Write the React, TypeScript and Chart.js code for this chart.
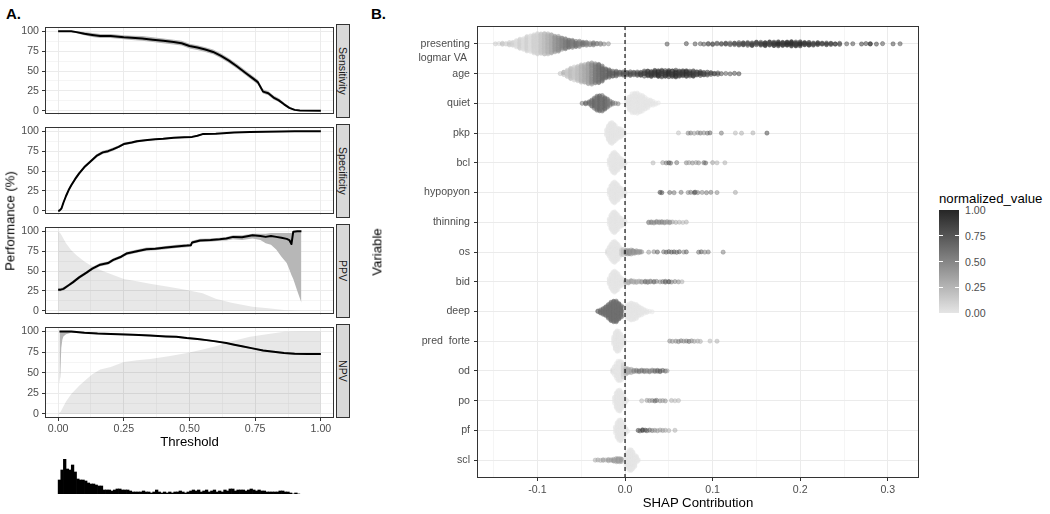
import React, { useEffect, useRef } from 'react';
import { Chart, registerables } from 'chart.js';
Chart.register(...registerables);

const FONT = "'Liberation Sans', Arial, Helvetica, sans-serif";
Chart.defaults.font.family = FONT;
const GRID = '#ebebeb';
const AXIS_TEXT = '#4d4d4d';
const BORDER = '#333333';

// ---------------- Panel A data ----------------
const facetNames = ['Sensitivity', 'Specificity', 'PPV', 'NPV'];
const thrMajor = [0, 0.25, 0.5, 0.75, 1];
const thrMinor = [0.125, 0.375, 0.625, 0.875];
const thrTickLabels = ['0.00', '0.25', '0.50', '0.75', '1.00'];
const perfMajor = [0, 25, 50, 75, 100];
const perfMinor = [12.5, 37.5, 62.5, 87.5];
const perfTickLabels = ['0', '25', '50', '75', '100'];

const sensX = [0, 0.05, 0.07, 0.1, 0.13, 0.16, 0.2, 0.25, 0.28, 0.32, 0.36, 0.4, 0.44, 0.47, 0.5, 0.53, 0.56, 0.59, 0.62, 0.65, 0.68, 0.7, 0.72, 0.74, 0.76, 0.77, 0.78, 0.8, 0.82, 0.84, 0.86, 0.88, 0.9, 0.92, 1.0];
const sensY = [100, 100, 99, 97, 95.5, 94, 94, 92.5, 92, 91, 89.5, 88, 86.5, 85, 81.5, 79.5, 77, 74, 69, 63, 56, 51, 46, 41, 36, 30, 24, 22, 16.5, 13, 8, 3.5, 1, 0.3, 0];
const sensLo = [99, 99, 97.5, 95, 93, 91.5, 91.5, 90, 89, 88, 86.5, 85, 83.5, 82, 78.5, 76.5, 74, 71, 66, 60, 53, 48, 43, 38, 33, 27, 21.5, 19.5, 14, 11, 6.5, 2.5, 0.3, 0, 0];
const sensHi = [100, 100, 100, 99, 98, 96.5, 96.5, 95, 94.5, 94, 92.5, 91, 89.5, 88, 84.5, 82.5, 80, 77, 72, 66, 59, 54, 49, 44, 39, 33, 27, 24.5, 19, 15.5, 10, 5, 2, 0.8, 0.3];

const specX = [0, 0.005, 0.013, 0.02, 0.03, 0.04, 0.05, 0.065, 0.08, 0.1, 0.12, 0.146, 0.17, 0.19, 0.21, 0.23, 0.25, 0.28, 0.3, 0.34, 0.37, 0.4, 0.44, 0.48, 0.51, 0.53, 0.55, 0.6, 0.67, 0.73, 0.79, 0.85, 0.9, 1.0];
const specY = [0, 0, 3, 10, 18.5, 26, 32, 40, 47, 55, 61, 69, 73.5, 75, 77.5, 80.5, 84, 86, 87.5, 89, 90, 90.5, 92, 92.5, 93, 94.5, 96.5, 97, 98.4, 99, 99.6, 99.8, 100, 100];
const specLo = [0, 0, 1.5, 8, 16.5, 24, 30, 38, 45, 53, 59, 67, 71.5, 73, 75.5, 79, 82.5, 84.5, 86, 88, 89, 89.5, 91, 91.5, 92, 93.5, 95.5, 96.3, 97.9, 98.6, 99.3, 99.6, 99.8, 99.9];
const specHi = [0.5, 1, 4.5, 12, 20.5, 28, 34, 42, 49, 57, 63, 71, 75.5, 77, 79.5, 82, 85.5, 87.5, 89, 90, 91, 91.5, 93, 93.5, 94, 95.5, 97.5, 97.7, 98.9, 99.4, 99.8, 100, 100, 100];

const ppvX = [0, 0.01, 0.02, 0.04, 0.057, 0.08, 0.108, 0.13, 0.16, 0.19, 0.21, 0.24, 0.26, 0.3, 0.336, 0.37, 0.41, 0.45, 0.49, 0.505, 0.51, 0.54, 0.58, 0.615, 0.64, 0.666, 0.7, 0.74, 0.77, 0.79, 0.81, 0.83, 0.85, 0.87, 0.88, 0.888, 0.895, 0.91, 0.926];
const ppvY = [26.5, 26.5, 27.5, 32, 36, 42, 48, 53, 58, 60, 64, 68, 72, 75, 77.5, 78, 79.5, 81, 82, 82.5, 86, 88.5, 89, 90, 91, 93, 92.5, 95, 94, 93, 94, 93, 92, 90.5, 89, 84, 99.6, 100, 100];
const ppvLo = [24.5, 24.5, 25.5, 30, 34, 40, 46, 51, 56, 58, 62, 66, 70, 73, 75.5, 76, 77.5, 79, 80, 80.5, 84, 86.5, 87, 88, 88.5, 90, 89, 91, 89, 85, 83, 77, 68, 60, 52, 45, 40, 25, 10];
const ppvHi = [28.5, 28.5, 29.5, 34, 38, 44, 50, 55, 60, 62, 66, 70, 74, 77, 79.5, 80, 81.5, 83, 84, 84.5, 88, 90.5, 91, 92, 93, 95, 95, 97, 97, 97, 98, 98, 98, 98, 98, 98, 100, 100, 100];
const ppvAreaX = [0, 0.01, 0.03, 0.05, 0.07, 0.1, 0.12, 0.15, 0.17, 0.21, 0.25, 0.3, 0.35, 0.42, 0.49, 0.55, 0.6, 0.66, 0.74, 0.8, 0.86, 0.9, 0.93];
const ppvAreaY = [100, 97, 85, 76, 70, 62, 58, 53, 50, 45, 40, 37, 34, 30, 26, 22, 15, 10, 5, 3, 1, 0.3, 0];

const npvX = [0.005, 0.008, 0.012, 0.016, 0.02, 0.03, 0.05, 0.1, 0.15, 0.2, 0.285, 0.35, 0.41, 0.45, 0.49, 0.53, 0.565, 0.6, 0.64, 0.67, 0.7, 0.74, 0.78, 0.82, 0.86, 0.9, 0.95, 1.0];
const npvY = [100, 100, 100, 100, 100, 100, 100, 98.5, 97.5, 97, 96, 95, 94, 93.5, 92, 91, 89.5, 88, 86, 84, 82, 79.5, 77, 75.5, 74, 73, 72.8, 72.8];
const npvLo = [36, 45, 80, 90, 94, 96.5, 98.5, 97.5, 96.5, 96, 95, 94, 93, 92.5, 91, 90, 88.5, 87, 85, 83, 81, 78.5, 75.8, 74.3, 72.8, 71.8, 71.6, 71.6];
const npvHi = [100, 100, 100, 100, 100, 100, 100, 99.5, 98.5, 98, 97, 96, 95, 94.5, 93, 92, 90.5, 89, 87, 85, 83, 80.5, 78.2, 76.7, 75.2, 74.2, 74, 74];
const npvAreaX = [0, 0.01, 0.03, 0.05, 0.08, 0.1, 0.13, 0.16, 0.2, 0.25, 0.3, 0.35, 0.42, 0.49, 0.55, 0.6, 0.66, 0.73, 0.8, 0.86, 0.93, 1.0];
const npvAreaY = [0, 3, 15, 24, 34, 40, 48, 54, 57, 63, 65, 66.5, 70, 74, 78, 82, 88, 93.7, 97, 99.6, 100, 100];

// histogram of predicted probabilities (bin width 0.01, starting at 0)
const histStart = 0;
const histBinWidth = 0.01;
const histCounts = [14, 24, 35, 25, 24, 29, 22, 15, 14, 14, 13, 11, 10, 10, 9, 8, 8, 4, 4, 4, 3, 4, 5, 5, 4, 4, 4, 3, 2, 2, 2, 2, 3, 2, 2, 1, 2, 4, 2, 1, 2, 1, 2, 1, 2, 2, 3, 2, 1, 2, 3, 4, 3, 4, 2, 3, 4, 2, 3, 4, 2, 3, 2, 4, 3, 5, 5, 3, 4, 4, 4, 3, 4, 5, 4, 3, 4, 3, 3, 2, 2, 2, 2, 2, 3, 3, 2, 2, 1, 0, 1, 0];

// ---------------- Panel B data ----------------
type Tup = [number, number, number]; // [SHAP value, normalized value, number of observations]
const variableNames = ['presenting logmar VA', 'age', 'quiet', 'pkp', 'bcl', 'hypopyon', 'thinning', 'os', 'bid', 'deep', 'pred  forte', 'od', 'po', 'pf', 'scl'];
const shapMajor = [-0.1, 0, 0.1, 0.2, 0.3];
const shapMinor = [-0.15, -0.05, 0.05, 0.15, 0.25];
const shapTickLabels = ['-0.1', '0.0', '0.1', '0.2', '0.3'];
const legendTicks = [1, 0.75, 0.5, 0.25, 0];
const legendTickLabels = ['1.00', '0.75', '0.50', '0.25', '0.00'];

const presentingVals: Tup[] = [
  [-0.148, 0.15, 1], [-0.144, 0.1, 1], [-0.14, 0.2, 2], [-0.136, 0.1, 2], [-0.132, 0.15, 3], [-0.128, 0.1, 5], [-0.124, 0.05, 8], [-0.12, 0.1, 11], [-0.116, 0.05, 14], [-0.112, 0.1, 17], [-0.108, 0.05, 20], [-0.104, 0.1, 22], [-0.1, 0.1, 24], [-0.096, 0.15, 25], [-0.092, 0.2, 25], [-0.088, 0.25, 24], [-0.084, 0.3, 22], [-0.08, 0.4, 20], [-0.076, 0.45, 17], [-0.072, 0.5, 14], [-0.068, 0.55, 12], [-0.064, 0.6, 10], [-0.06, 0.55, 9], [-0.056, 0.6, 7], [-0.052, 0.55, 6], [-0.048, 0.6, 5], [-0.044, 0.55, 4], [-0.04, 0.5, 3], [-0.036, 0.6, 3], [-0.032, 0.55, 2], [-0.028, 0.5, 2], [-0.024, 0.55, 1], [-0.019, 0.45, 1],
  [0.048, 0.8, 1], [0.07, 0.85, 1], [0.08, 0.8, 1], [0.086, 0.75, 1], [0.09, 0.8, 1], [0.095, 0.75, 2], [0.1, 0.8, 2], [0.105, 0.7, 2], [0.11, 0.8, 2], [0.115, 0.75, 3], [0.12, 0.7, 3], [0.125, 0.8, 3], [0.13, 0.75, 4], [0.135, 0.8, 5], [0.14, 0.75, 5], [0.145, 0.85, 5], [0.15, 0.8, 5], [0.155, 0.85, 5], [0.16, 0.9, 6], [0.165, 0.85, 6], [0.17, 0.9, 6], [0.175, 0.95, 6], [0.18, 0.9, 6], [0.185, 0.95, 6], [0.19, 0.95, 7], [0.195, 0.9, 7], [0.2, 0.95, 6], [0.205, 0.9, 5], [0.21, 0.9, 5], [0.215, 0.85, 4], [0.22, 0.9, 4], [0.225, 0.85, 3], [0.23, 0.9, 3], [0.235, 0.85, 3], [0.24, 0.9, 2], [0.245, 0.85, 2], [0.253, 0.8, 1], [0.26, 0.85, 1], [0.27, 0.95, 1], [0.275, 0.9, 1], [0.28, 0.95, 2], [0.287, 0.9, 1], [0.294, 0.8, 1], [0.306, 0.85, 1], [0.314, 0.8, 1],
];
const ageVals: Tup[] = [
  [-0.074, 0.2, 1], [-0.07, 0.25, 3], [-0.066, 0.15, 8], [-0.062, 0.2, 12], [-0.058, 0.15, 14], [-0.054, 0.2, 16], [-0.05, 0.25, 18], [-0.046, 0.3, 20], [-0.042, 0.35, 22], [-0.038, 0.45, 22], [-0.034, 0.55, 22], [-0.03, 0.6, 20], [-0.026, 0.65, 16], [-0.022, 0.65, 11], [-0.018, 0.7, 8], [-0.014, 0.7, 6], [-0.01, 0.75, 5], [-0.006, 0.7, 4], [-0.002, 0.75, 4], [0.002, 0.75, 4], [0.006, 0.8, 4], [0.01, 0.75, 4], [0.014, 0.8, 4], [0.018, 0.85, 5], [0.022, 0.85, 5], [0.026, 0.9, 6], [0.03, 0.9, 7], [0.034, 0.9, 7], [0.038, 0.95, 7], [0.042, 0.9, 7], [0.046, 0.9, 7], [0.05, 0.95, 7], [0.054, 0.9, 7], [0.058, 0.95, 7], [0.062, 0.9, 7], [0.066, 0.9, 7], [0.07, 0.95, 6], [0.074, 0.9, 6], [0.078, 0.9, 6], [0.082, 0.85, 5], [0.086, 0.9, 5], [0.09, 0.85, 4], [0.094, 0.85, 3], [0.098, 0.8, 3], [0.102, 0.85, 2], [0.106, 0.8, 2], [0.11, 0.85, 1], [0.115, 0.75, 1], [0.12, 0.8, 1], [0.125, 0.85, 1], [0.13, 0.9, 1],
];
const quietVals: Tup[] = [
  [-0.049, 0.6, 1], [-0.045, 0.7, 2], [-0.041, 0.65, 3], [-0.038, 0.6, 6], [-0.035, 0.65, 10], [-0.032, 0.6, 14], [-0.029, 0.65, 16], [-0.026, 0.6, 15], [-0.023, 0.65, 12], [-0.02, 0.6, 8], [-0.017, 0.55, 4], [-0.014, 0.6, 2], [-0.011, 0.5, 1], [-0.008, 0.55, 1],
  [0.002, 0, 6], [0.005, 0, 14], [0.008, 0, 18], [0.011, 0, 20], [0.014, 0, 20], [0.017, 0, 17], [0.02, 0, 14], [0.023, 0, 11], [0.026, 0, 8], [0.029, 0, 6], [0.032, 0, 4], [0.035, 0, 2], [0.038, 0, 1],
];
const pkpVals: Tup[] = [
  [-0.021, 0, 5], [-0.019, 0, 16], [-0.017, 0, 24], [-0.015, 0, 26], [-0.013, 0, 20], [-0.011, 0, 12], [-0.009, 0, 8], [-0.007, 0, 9], [-0.005, 0, 10], [-0.003, 0, 7], [-0.001, 0, 2],
  [0.061, 0.2, 1], [0.072, 0.5, 1], [0.075, 0.6, 1], [0.079, 0.4, 1], [0.083, 0.5, 1], [0.086, 0.6, 1], [0.09, 0.5, 1], [0.094, 0.6, 1], [0.097, 0.7, 1], [0.11, 0.6, 1], [0.126, 0.25, 1], [0.133, 0.3, 1], [0.146, 0.3, 1], [0.162, 0.85, 1],
];
const bclVals: Tup[] = [
  [-0.018, 0, 4], [-0.016, 0, 14], [-0.014, 0, 24], [-0.012, 0, 26], [-0.01, 0, 18], [-0.008, 0, 10], [-0.006, 0, 8], [-0.004, 0, 9], [-0.002, 0, 7], [0, 0, 2],
  [0.032, 0.25, 1], [0.043, 0.4, 1], [0.047, 0.6, 1], [0.05, 0.8, 1], [0.052, 0.7, 1], [0.059, 0.6, 1], [0.07, 0.5, 1], [0.073, 0.4, 1], [0.077, 0.5, 1], [0.081, 0.4, 1], [0.084, 0.5, 1], [0.09, 0.6, 1], [0.092, 0.7, 1], [0.1, 0.4, 1], [0.105, 0.3, 1], [0.114, 0.3, 1],
];
const hypopyonVals: Tup[] = [
  [-0.018, 0, 4], [-0.016, 0, 14], [-0.014, 0, 22], [-0.012, 0, 26], [-0.01, 0, 20], [-0.008, 0, 11], [-0.006, 0, 8], [-0.004, 0, 9], [-0.002, 0, 7], [0, 0, 2],
  [0.04, 0.85, 1], [0.042, 0.8, 1], [0.051, 0.7, 1], [0.056, 0.6, 1], [0.064, 0.6, 1], [0.072, 0.5, 1], [0.075, 0.6, 1], [0.079, 0.7, 1], [0.08, 0.85, 1], [0.083, 0.6, 1], [0.088, 0.5, 1], [0.093, 0.6, 1], [0.098, 0.6, 1], [0.105, 0.5, 1], [0.126, 0.35, 1],
];
const thinningVals: Tup[] = [
  [-0.018, 0, 4], [-0.016, 0, 15], [-0.014, 0, 24], [-0.012, 0, 26], [-0.01, 0, 18], [-0.008, 0, 10], [-0.006, 0, 8], [-0.004, 0, 8], [-0.002, 0, 6], [0, 0, 2],
  [0.027, 0.45, 2], [0.03, 0.5, 2], [0.033, 0.45, 2], [0.036, 0.5, 2], [0.039, 0.45, 2], [0.042, 0.5, 2], [0.045, 0.45, 2], [0.048, 0.4, 2], [0.051, 0.45, 2], [0.054, 0.4, 1], [0.058, 0.35, 1], [0.062, 0.3, 1], [0.066, 0.25, 1], [0.07, 0.3, 1],
];
const osVals: Tup[] = [
  [-0.02, 0.05, 3], [-0.018, 0, 8], [-0.016, 0, 14], [-0.014, 0, 20], [-0.012, 0, 22], [-0.01, 0, 18], [-0.008, 0, 12], [-0.006, 0, 8], [-0.004, 0.1, 5], [-0.002, 0.2, 4],
  [0.001, 0.45, 4], [0.003, 0.4, 4], [0.005, 0.45, 4], [0.007, 0.4, 3], [0.009, 0.45, 3], [0.011, 0.4, 3], [0.013, 0.45, 2], [0.015, 0.4, 2], [0.017, 0.4, 2], [0.019, 0.45, 1],
  [0.027, 0.4, 1], [0.033, 0.5, 1], [0.037, 0.75, 1], [0.044, 0.6, 1], [0.047, 0.7, 1], [0.05, 0.75, 1], [0.053, 0.7, 1], [0.056, 0.8, 1], [0.059, 0.65, 1], [0.062, 0.75, 1], [0.067, 0.5, 1], [0.07, 0.7, 1], [0.084, 0.6, 1], [0.087, 0.75, 1], [0.091, 0.5, 1], [0.095, 0.6, 1], [0.112, 0.55, 1],
];
const bidVals: Tup[] = [
  [-0.018, 0, 5], [-0.016, 0, 14], [-0.014, 0, 22], [-0.012, 0, 24], [-0.01, 0, 22], [-0.008, 0, 14], [-0.006, 0, 9], [-0.004, 0, 7], [-0.002, 0, 4],
  [0.001, 0.3, 3], [0.004, 0.3, 3], [0.007, 0.35, 3], [0.01, 0.3, 3], [0.013, 0.35, 2], [0.016, 0.3, 2], [0.019, 0.4, 2], [0.023, 0.6, 2], [0.026, 0.55, 2], [0.029, 0.5, 2], [0.033, 0.6, 2], [0.036, 0.55, 1], [0.04, 0.5, 1], [0.043, 0.6, 1], [0.046, 0.65, 2], [0.05, 0.7, 2], [0.053, 0.6, 1], [0.057, 0.55, 1], [0.061, 0.5, 1], [0.065, 0.3, 1],
];
const deepVals: Tup[] = [
  [-0.031, 0.62, 2], [-0.028, 0.62, 5], [-0.025, 0.62, 8], [-0.022, 0.62, 12], [-0.019, 0.62, 18], [-0.016, 0.62, 26], [-0.013, 0.62, 30], [-0.01, 0.62, 30], [-0.007, 0.62, 24], [-0.004, 0.62, 12], [-0.002, 0.62, 4],
  [0.001, 0, 10], [0.004, 0, 22], [0.007, 0, 26], [0.01, 0, 24], [0.013, 0, 18], [0.016, 0, 13], [0.019, 0, 9], [0.022, 0, 5], [0.025, 0, 3], [0.028, 0, 1], [0.031, 0, 1],
];
const predForteVals: Tup[] = [
  [-0.013, 0, 6], [-0.011, 0, 20], [-0.009, 0, 26], [-0.007, 0, 18], [-0.005, 0, 10], [-0.003, 0, 8], [-0.001, 0, 3],
  [0.051, 0.5, 1], [0.054, 0.45, 1], [0.058, 0.5, 1], [0.061, 0.55, 1], [0.064, 0.6, 1], [0.067, 0.5, 1], [0.07, 0.55, 1], [0.073, 0.7, 1], [0.076, 0.5, 1], [0.079, 0.4, 1], [0.083, 0.35, 1], [0.086, 0.3, 1], [0.097, 0.25, 1], [0.105, 0.3, 1],
];
const odVals: Tup[] = [
  [-0.014, 0.05, 3], [-0.012, 0, 6], [-0.01, 0, 10], [-0.008, 0, 18], [-0.006, 0, 22], [-0.004, 0, 16], [-0.002, 0.1, 8],
  [0.001, 0.3, 4], [0.003, 0.35, 4], [0.005, 0.3, 3], [0.007, 0.35, 3], [0.01, 0.5, 2], [0.013, 0.55, 2], [0.016, 0.6, 2], [0.019, 0.55, 2], [0.022, 0.6, 2], [0.025, 0.5, 2], [0.028, 0.55, 2], [0.031, 0.5, 2], [0.034, 0.6, 2], [0.037, 0.65, 2], [0.04, 0.7, 2], [0.043, 0.7, 1], [0.046, 0.75, 1], [0.048, 0.4, 1],
];
const poVals: Tup[] = [
  [-0.012, 0, 4], [-0.01, 0, 14], [-0.008, 0, 24], [-0.006, 0, 24], [-0.004, 0, 14], [-0.002, 0, 8], [0, 0, 5], [0.002, 0, 1],
  [0.019, 0.25, 1], [0.025, 0.4, 1], [0.028, 0.45, 1], [0.031, 0.5, 1], [0.034, 0.7, 1], [0.036, 0.65, 1], [0.04, 0.5, 1], [0.043, 0.4, 1], [0.046, 0.45, 1], [0.053, 0.3, 1], [0.057, 0.25, 1], [0.061, 0.25, 1],
];
const pfVals: Tup[] = [
  [-0.011, 0, 4], [-0.009, 0, 14], [-0.007, 0, 24], [-0.005, 0, 24], [-0.003, 0, 14], [-0.001, 0, 8], [0.001, 0, 4], [0.003, 0, 1],
  [0.015, 0.8, 1], [0.017, 0.75, 1], [0.02, 0.85, 2], [0.023, 0.8, 1], [0.025, 0.75, 1], [0.028, 0.7, 1], [0.031, 0.6, 1], [0.034, 0.5, 1], [0.037, 0.45, 1], [0.04, 0.4, 1], [0.043, 0.45, 1], [0.046, 0.35, 1], [0.05, 0.3, 1], [0.057, 0.3, 1],
];
const sclVals: Tup[] = [
  [-0.034, 0.3, 1], [-0.031, 0.35, 1], [-0.028, 0.3, 1], [-0.025, 0.35, 2], [-0.022, 0.3, 1], [-0.019, 0.4, 2], [-0.016, 0.35, 2], [-0.013, 0.4, 3], [-0.01, 0.35, 4], [-0.008, 0.4, 4], [-0.006, 0.35, 4], [-0.004, 0.4, 3],
  [0.001, 0, 8], [0.003, 0, 16], [0.005, 0, 24], [0.007, 0, 24], [0.009, 0, 17], [0.011, 0, 10], [0.013, 0, 5], [0.015, 0, 2],
];
const shapRows: Tup[][] = [presentingVals, ageVals, quietVals, pkpVals, bclVals, hypopyonVals, thinningVals, osVals, bidVals, deepVals, predForteVals, odVals, poVals, pfVals, sclVals];

// ---------------- helpers ----------------
const LOW = [229, 229, 229];
const HIGH = [38, 38, 38];
function shade(v: number, a: number) {
  const c = LOW.map((l, i) => Math.round(l + (HIGH[i] - l) * v));
  return `rgba(${c[0]},${c[1]},${c[2]},${a})`;
}
const isIn = (v: number, arr: number[]) => v !== undefined && arr.some((a) => Math.abs(a - v) < 1e-9);
const toPts = (xs: number[], ys: number[]) => xs.map((x, i) => ({ x, y: ys[i] }));

function vdc(n: number) {
  let v = 0, d = 1;
  while (n > 0) { d *= 2; v += (n % 2) / d; n = Math.floor(n / 2); }
  return v;
}

// quasirandom (violin-like) vertical layout of points within each row
function swarmLayout(rows: Tup[][]) {
  const W = 0.36, bw = 0.003;
  const out: { x: number; y: number; c: string }[] = [];
  rows.forEach((tuples, r) => {
    const flat: { s: number; v: number }[] = [];
    tuples.forEach(([s, v, n]) => { for (let k = 0; k < n; k++) flat.push({ s, v }); });
    const dens = flat.map((p) => tuples.reduce((a, [s2, , n2]) => a + n2 * Math.exp(-0.5 * ((p.s - s2) / bw) ** 2), 0));
    const dmax = Math.max(...dens);
    const order = flat.map((_, i) => i).sort((a, b) => flat[a].s - flat[b].s || a - b);
    const off: number[] = new Array(flat.length).fill(0);
    order.forEach((idx, rank) => { off[idx] = W * (dens[idx] / dmax) * (2 * vdc(rank + 1) - 1); });
    flat.forEach((p, i) => out.push({ x: p.s, y: r + off[i], c: shade(p.v, 0.5) }));
  });
  return out;
}

const panelBorder = {
  id: 'panelBorder',
  afterDraw(chart: any) {
    const { ctx, chartArea: a } = chart;
    ctx.save();
    ctx.strokeStyle = BORDER;
    ctx.lineWidth = 1;
    ctx.strokeRect(Math.round(a.left) + 0.5, Math.round(a.top) + 0.5, Math.round(a.right - a.left) - 1, Math.round(a.bottom - a.top) - 1);
    ctx.restore();
  },
};

const tickFont = { family: FONT, size: 10.6 };

function gridOpts(major: number[]) {
  return {
    color: GRID,
    lineWidth: (c: any) => (isIn(c.tick?.value, major) ? 1 : 0.5),
    tickLength: 3,
    tickWidth: 1,
    tickColor: (c: any) => (isIn(c.tick?.value, major) ? BORDER : 'rgba(0,0,0,0)'),
  };
}

function facetConfig(i: number, bottom: boolean): any {
  const sets = [
    { x: sensX, y: sensY, lo: sensLo, hi: sensHi, ax: null as number[] | null, ay: null as number[] | null },
    { x: specX, y: specY, lo: specLo, hi: specHi, ax: null, ay: null },
    { x: ppvX, y: ppvY, lo: ppvLo, hi: ppvHi, ax: ppvAreaX, ay: ppvAreaY },
    { x: npvX, y: npvY, lo: npvLo, hi: npvHi, ax: npvAreaX, ay: npvAreaY },
  ];
  const f = sets[i];
  const datasets: any[] = [];
  if (f.ax && f.ay) {
    datasets.push({ data: toPts(f.ax, f.ay), fill: 'origin', backgroundColor: 'rgba(0,0,0,0.09)', borderColor: 'rgba(0,0,0,0)', borderWidth: 0, pointRadius: 0, order: 4 });
  }
  datasets.push({ data: toPts(f.x, f.lo), fill: false, borderColor: 'rgba(0,0,0,0)', borderWidth: 0, pointRadius: 0, order: 3 });
  datasets.push({ data: toPts(f.x, f.hi), fill: '-1', backgroundColor: '#b7b7b7', borderColor: 'rgba(0,0,0,0)', borderWidth: 0, pointRadius: 0, order: 2 });
  datasets.push({ data: toPts(f.x, f.y), fill: false, borderColor: '#000', borderWidth: 2, borderJoinStyle: 'round', pointRadius: 0, order: 1 });
  return {
    type: 'line',
    data: { datasets },
    plugins: [panelBorder],
    options: {
      animation: false, responsive: false, events: [],
      layout: { padding: { left: 0, right: 1, top: 6, bottom: bottom ? 0 : 6 } },
      plugins: { legend: { display: false }, tooltip: { enabled: false } },
      scales: {
        x: {
          type: 'linear', min: -0.05, max: 1.05, bounds: 'data',
          afterBuildTicks: (ax: any) => { ax.ticks = [...thrMajor, ...thrMinor].sort((a, b) => a - b).map((v) => ({ value: v })); },
          ticks: {
            display: bottom, autoSkip: false, maxRotation: 0, padding: 2, color: AXIS_TEXT, font: tickFont,
            callback: (v: number) => { const k = thrMajor.findIndex((m) => Math.abs(m - v) < 1e-9); return k >= 0 ? thrTickLabels[k] : ''; },
          },
          grid: { ...gridOpts(thrMajor), drawTicks: bottom },
          border: { display: false },
          afterFit: (s: any) => { s.height = bottom ? 20 : 0; },
        },
        y: {
          type: 'linear', min: -5, max: 105, bounds: 'data',
          afterBuildTicks: (ax: any) => { ax.ticks = [...perfMajor, ...perfMinor].sort((a, b) => a - b).map((v) => ({ value: v })); },
          ticks: {
            autoSkip: false, padding: 3, color: AXIS_TEXT, font: tickFont,
            callback: (v: number) => { const k = perfMajor.findIndex((m) => Math.abs(m - v) < 1e-9); return k >= 0 ? perfTickLabels[k] : ''; },
          },
          grid: gridOpts(perfMajor),
          border: { display: false },
          afterFit: (s: any) => { s.width = 45; },
        },
      },
    },
  };
}

function histConfig(): any {
  const data = histCounts.map((c, i) => ({ x: histStart + (i + 0.5) * histBinWidth, y: c }));
  return {
    type: 'bar',
    data: { datasets: [{ data, backgroundColor: '#000', borderWidth: 0, barPercentage: 1, categoryPercentage: 1 }] },
    options: {
      animation: false, responsive: false, events: [],
      layout: { padding: { left: 45, right: 1, top: 0, bottom: 0 } },
      plugins: { legend: { display: false }, tooltip: { enabled: false } },
      scales: {
        x: { type: 'linear', min: -0.05, max: 1.05, display: false, offset: false },
        y: { type: 'linear', min: 0, max: 35, display: false },
      },
    },
  };
}

function shapConfig(): any {
  const pts = swarmLayout(shapRows);
  const labels: (string | string[])[] = variableNames.map((n, i) => (i === 0 ? ['', 'presenting', 'logmar VA '] : n));
  return {
    type: 'scatter',
    data: {
      datasets: [
        { type: 'line', data: [{ x: 0, y: -0.6 }, { x: 0, y: 14.6 }], borderColor: '#000', borderWidth: 1.1, borderDash: [4, 3], pointRadius: 0, fill: false, order: 1 },
        {
          data: pts.map((p) => ({ x: p.x, y: p.y })),
          pointRadius: 2.1,
          pointBackgroundColor: pts.map((p) => p.c),
          pointBorderColor: pts.map((p) => p.c),
          pointBorderWidth: 0.8,
          order: 2,
        },
      ],
    },
    plugins: [panelBorder],
    options: {
      animation: false, responsive: false, events: [],
      layout: { padding: { left: 0, right: 11, top: 26, bottom: 0 } },
      plugins: { legend: { display: false }, tooltip: { enabled: false } },
      scales: {
        x: {
          type: 'linear', min: -0.169, max: 0.3356, bounds: 'data',
          afterBuildTicks: (ax: any) => { ax.ticks = [...shapMajor, ...shapMinor].sort((a, b) => a - b).map((v) => ({ value: v })); },
          ticks: {
            autoSkip: false, maxRotation: 0, padding: 3, color: AXIS_TEXT, font: tickFont,
            callback: (v: number) => { const k = shapMajor.findIndex((m) => Math.abs(m - v) < 1e-9); return k >= 0 ? shapTickLabels[k] : ''; },
          },
          grid: gridOpts(shapMajor),
          border: { display: false },
          afterFit: (s: any) => { s.height = 36; },
        },
        y: {
          type: 'linear', min: -0.6, max: 14.6, reverse: true, bounds: 'data',
          afterBuildTicks: (ax: any) => { ax.ticks = variableNames.map((_, i) => ({ value: i })); },
          ticks: {
            autoSkip: false, padding: 4, color: AXIS_TEXT, font: { ...tickFont, lineHeight: 1.32 },
            callback: (v: number) => labels[Math.round(v)] ?? '',
          },
          grid: { color: GRID, lineWidth: 1, tickLength: 3, tickWidth: 1, tickColor: BORDER },
          border: { display: false },
          afterFit: (s: any) => { s.width = 117; },
        },
      },
    },
  };
}

function ChartBox({ left, top, width, height, make }: { left: number; top: number; width: number; height: number; make: () => any }) {
  const ref = useRef<HTMLCanvasElement>(null);
  useEffect(() => {
    if (!ref.current) return;
    const chart = new Chart(ref.current, make());
    return () => chart.destroy();
  }, []);
  return <canvas ref={ref} width={width} height={height} style={{ position: 'absolute', left, top, width, height }} />;
}

function Txt({ x, y, text, size, color = '#000', rotate = 0, weight = 'normal', anchor = 'center' }: { x: number; y: number; text: string; size: number; color?: string; rotate?: number; weight?: string; anchor?: 'center' | 'left' }) {
  const tx = anchor === 'center' ? '-50%' : '0';
  return (
    <div style={{ position: 'absolute', left: x, top: y, transform: `translate(${tx},-50%) rotate(${rotate}deg)`, fontFamily: FONT, fontSize: size, color, whiteSpace: 'pre', lineHeight: 1, fontWeight: weight as any }}>
      {text}
    </div>
  );
}

const panelTops = [24, 124, 224, 324];
const panelH = 94;

export default function App() {
  return (
    <div style={{ position: 'absolute', left: 0, top: 0, width: 1050, height: 514, background: '#fff', overflow: 'hidden', fontFamily: FONT }}>
      <Txt x={6} y={13} text="A." size={15} weight="bold" anchor="left" />
      <Txt x={371} y={13} text="B." size={15} weight="bold" anchor="left" />

      {facetNames.map((name, i) => {
        const bottom = i === facetNames.length - 1;
        return (
          <React.Fragment key={name}>
            <ChartBox left={0} top={panelTops[i] - 6} width={335} height={panelH + 6 + (bottom ? 20 : 6)} make={() => facetConfig(i, bottom)} />
            <div style={{ position: 'absolute', left: 336, top: panelTops[i], width: 14, height: panelH, boxSizing: 'border-box', background: '#d9d9d9', border: `1px solid ${BORDER}`, display: 'flex', alignItems: 'center', justifyContent: 'center' }}>
              <span style={{ writingMode: 'vertical-rl', fontFamily: FONT, fontSize: 10.6, color: '#1a1a1a', lineHeight: 1, whiteSpace: 'nowrap' }}>{name}</span>
            </div>
          </React.Fragment>
        );
      })}
      <Txt x={10} y={221} text="Performance (%)" size={13.2} rotate={-90} />
      <Txt x={189.5} y={442} text="Threshold" size={13.2} />

      <ChartBox left={0} top={459} width={335} height={35} make={histConfig} />

      <ChartBox left={360} top={0} width={570} height={514} make={shapConfig} />
      <Txt x={377} y={252} text="Variable" size={13.2} rotate={-90} />
      <Txt x={698} y={503} text="SHAP Contribution" size={13.2} />

      <Txt x={939} y={199} text="normalized_value" size={13.2} anchor="left" />
      <div style={{ position: 'absolute', left: 939, top: 210, width: 20, height: 103, background: `linear-gradient(to top, ${shade(0, 1)}, ${shade(1, 1)})` }} />
      {legendTicks.map((v, i) => (
        <React.Fragment key={v}>
          {v > 0 && v < 1 && (
            <>
              <div style={{ position: 'absolute', left: 939, top: 313 - v * 103 - 0.5, width: 4, height: 1, background: '#fff' }} />
              <div style={{ position: 'absolute', left: 955, top: 313 - v * 103 - 0.5, width: 4, height: 1, background: '#fff' }} />
            </>
          )}
          <Txt x={965} y={313 - v * 103} text={legendTickLabels[i]} size={10.6} color={AXIS_TEXT} anchor="left" />
        </React.Fragment>
      ))}
    </div>
  );
}
